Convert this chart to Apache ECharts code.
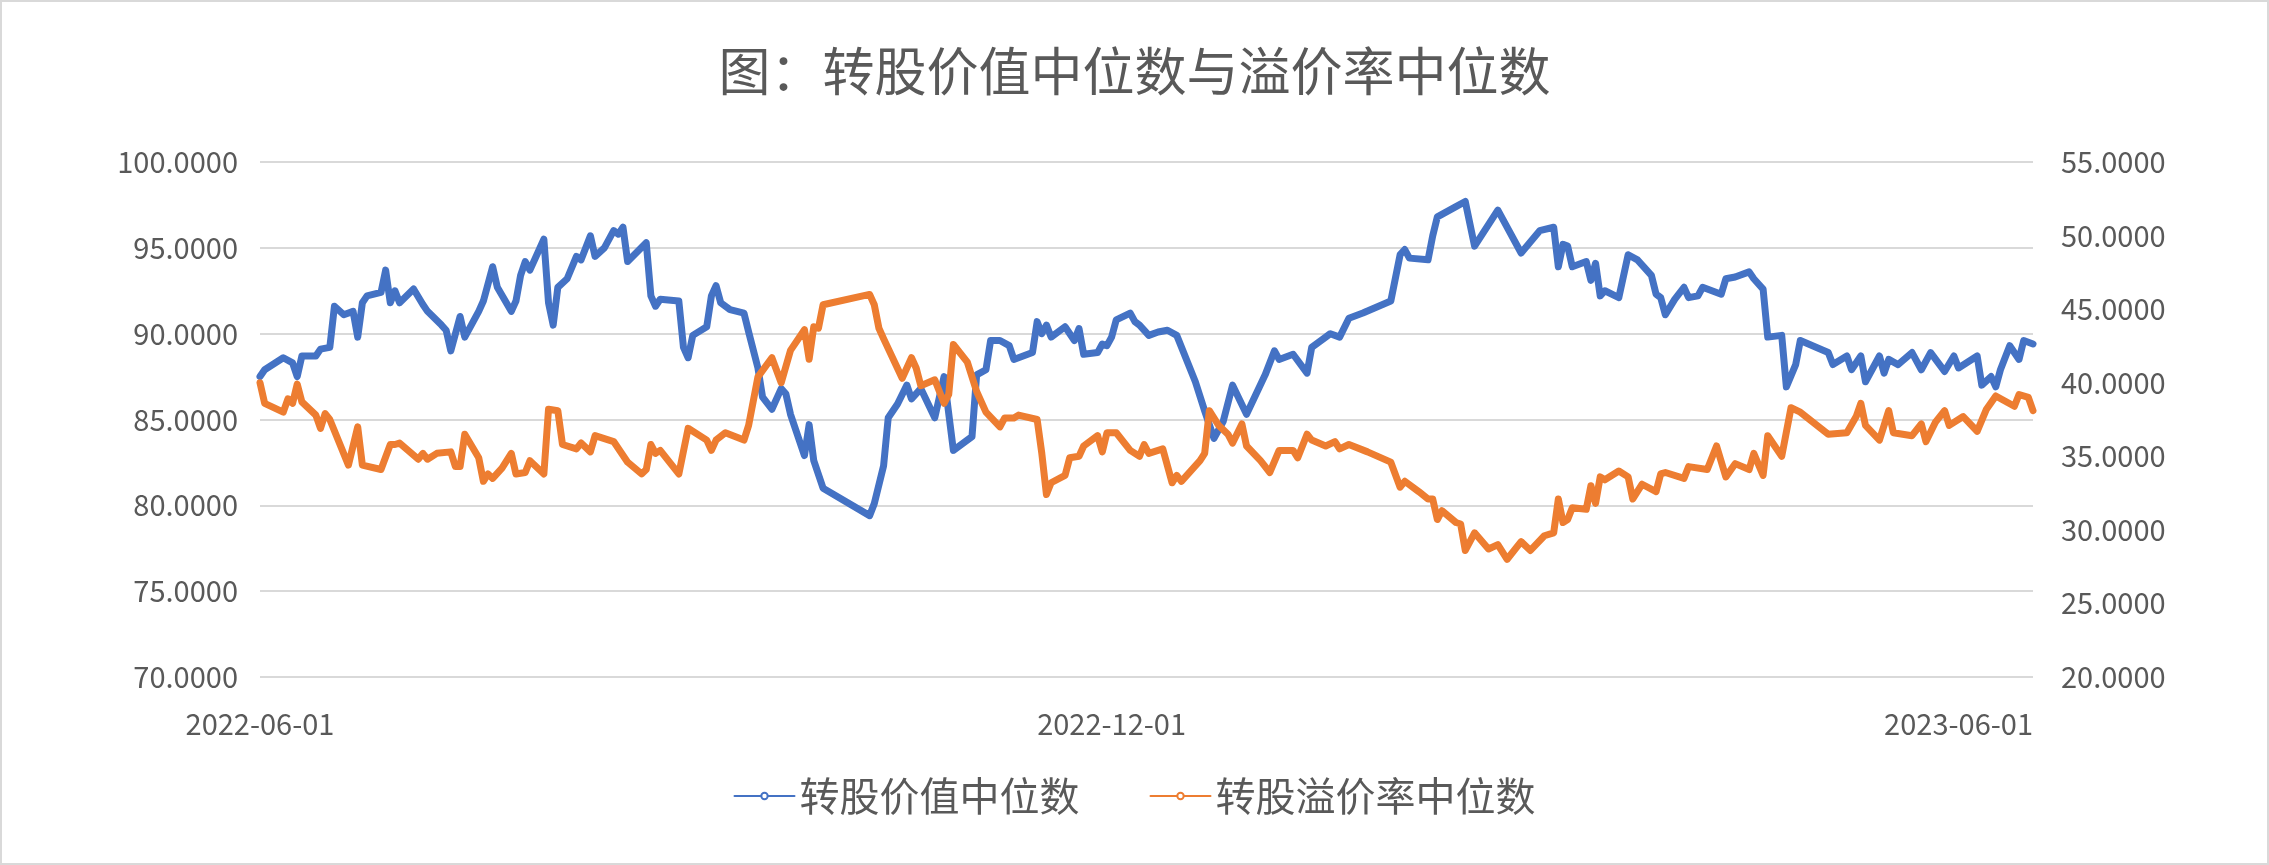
<!DOCTYPE html>
<html>
<head>
<meta charset="utf-8">
<script src="https://cdn.jsdelivr.net/npm/echarts@6/dist/echarts.min.js"></script>
<style>
  html, body { margin: 0; padding: 0; background: #fff; }
  #chart { width: 2265px; height: 861px; border: 2px solid #d9d9d9; }
</style>
</head>
<body>
<div id="chart"></div>
<script>
// 转股价值中位数
var valueDates = ['2022-06-01','2022-06-02','2022-06-06','2022-06-08','2022-06-09','2022-06-10','2022-06-13','2022-06-14','2022-06-16','2022-06-17','2022-06-19','2022-06-21','2022-06-22','2022-06-23','2022-06-24','2022-06-27','2022-06-28','2022-06-29','2022-06-30','2022-07-01','2022-07-04','2022-07-06','2022-07-07','2022-07-10','2022-07-11','2022-07-12','2022-07-14','2022-07-15','2022-07-18','2022-07-19','2022-07-21','2022-07-22','2022-07-25','2022-07-26','2022-07-27','2022-07-28','2022-07-29','2022-08-01','2022-08-02','2022-08-03','2022-08-04','2022-08-06','2022-08-08','2022-08-09','2022-08-11','2022-08-12','2022-08-14','2022-08-16','2022-08-17','2022-08-18','2022-08-19','2022-08-23','2022-08-24','2022-08-25','2022-08-26','2022-08-30','2022-08-31','2022-09-01','2022-09-02','2022-09-05','2022-09-06','2022-09-07','2022-09-08','2022-09-10','2022-09-13','2022-09-14','2022-09-16','2022-09-17','2022-09-19','2022-09-21','2022-09-22','2022-09-23','2022-09-26','2022-09-27','2022-09-28','2022-09-30','2022-10-10','2022-10-11','2022-10-13','2022-10-14','2022-10-16','2022-10-18','2022-10-19','2022-10-21','2022-10-24','2022-10-26','2022-10-28','2022-11-01','2022-11-02','2022-11-04','2022-11-05','2022-11-07','2022-11-09','2022-11-10','2022-11-14','2022-11-15','2022-11-16','2022-11-17','2022-11-18','2022-11-21','2022-11-23','2022-11-24','2022-11-25','2022-11-28','2022-11-29','2022-11-30','2022-12-01','2022-12-02','2022-12-05','2022-12-06','2022-12-07','2022-12-09','2022-12-11','2022-12-13','2022-12-15','2022-12-19','2022-12-21','2022-12-23','2022-12-25','2022-12-27','2022-12-30','2023-01-03','2023-01-05','2023-01-06','2023-01-09','2023-01-12','2023-01-13','2023-01-16','2023-01-17','2023-01-19','2023-01-21','2023-01-24','2023-01-30','2023-02-01','2023-02-02','2023-02-03','2023-02-07','2023-02-08','2023-02-09','2023-02-13','2023-02-15','2023-02-17','2023-02-22','2023-02-27','2023-03-03','2023-03-06','2023-03-07','2023-03-08','2023-03-09','2023-03-10','2023-03-13','2023-03-14','2023-03-15','2023-03-16','2023-03-17','2023-03-20','2023-03-22','2023-03-24','2023-03-27','2023-03-28','2023-03-29','2023-03-30','2023-04-01','2023-04-03','2023-04-04','2023-04-06','2023-04-07','2023-04-11','2023-04-12','2023-04-14','2023-04-17','2023-04-18','2023-04-20','2023-04-21','2023-04-24','2023-04-25','2023-04-27','2023-04-28','2023-05-04','2023-05-05','2023-05-08','2023-05-09','2023-05-11','2023-05-12','2023-05-15','2023-05-16','2023-05-17','2023-05-19','2023-05-22','2023-05-24','2023-05-26','2023-05-29','2023-05-31','2023-06-01','2023-06-05','2023-06-06','2023-06-08','2023-06-09','2023-06-10','2023-06-12','2023-06-14','2023-06-15','2023-06-17'];
var valueData = [87.5,87.9,88.6,88.3,87.5,88.7,88.7,89.1,89.2,91.6,91.1,91.3,89.8,91.8,92.2,92.4,93.7,91.8,92.5,91.8,92.6,91.7,91.3,90.5,90.2,89.0,91.0,89.8,91.3,91.9,93.9,92.7,91.3,91.9,93.4,94.2,93.7,95.5,91.8,90.5,92.7,93.2,94.5,94.3,95.7,94.5,95.0,96.0,95.8,96.2,94.2,95.3,92.2,91.6,92.0,91.9,89.2,88.6,89.9,90.4,92.2,92.8,91.8,91.4,91.2,90.1,88.0,86.3,85.6,86.8,86.5,85.3,82.9,84.7,82.6,81.0,79.4,80.1,82.3,85.1,85.9,87.0,86.2,86.8,85.1,87.5,83.2,84.0,87.6,87.9,89.6,89.6,89.3,88.5,88.9,90.7,90.0,90.5,89.8,90.4,89.6,90.3,88.8,88.9,89.4,89.3,89.8,90.8,91.2,90.7,90.5,89.9,90.1,90.2,89.9,87.2,85.5,83.9,84.9,87.0,85.3,87.6,89.0,88.5,88.8,87.7,89.2,89.8,90.0,89.8,90.9,91.2,91.9,94.6,94.9,94.4,94.3,95.7,96.8,97.4,97.7,95.1,97.2,94.7,96.0,96.2,93.9,95.2,95.1,93.9,94.2,93.1,94.1,92.2,92.5,92.1,94.6,94.3,93.4,92.3,92.1,91.1,92.0,92.7,92.1,92.2,92.7,92.3,93.2,93.3,93.6,93.2,92.6,89.8,89.9,86.9,88.2,89.6,88.9,88.2,88.7,87.9,88.7,87.2,88.7,87.7,88.5,88.2,88.9,87.9,88.9,87.8,88.7,88.0,88.7,87.0,87.5,86.9,87.9,89.3,88.5,89.6,89.4];

// 转股溢价率中位数
var premiumDates = ['2022-06-01','2022-06-02','2022-06-06','2022-06-07','2022-06-08','2022-06-09','2022-06-10','2022-06-13','2022-06-14','2022-06-15','2022-06-16','2022-06-20','2022-06-22','2022-06-23','2022-06-27','2022-06-29','2022-06-30','2022-07-01','2022-07-05','2022-07-06','2022-07-07','2022-07-09','2022-07-12','2022-07-13','2022-07-14','2022-07-15','2022-07-18','2022-07-19','2022-07-20','2022-07-21','2022-07-23','2022-07-25','2022-07-26','2022-07-28','2022-07-29','2022-08-01','2022-08-02','2022-08-04','2022-08-05','2022-08-08','2022-08-09','2022-08-11','2022-08-12','2022-08-16','2022-08-19','2022-08-22','2022-08-23','2022-08-24','2022-08-25','2022-08-26','2022-08-30','2022-09-01','2022-09-05','2022-09-06','2022-09-07','2022-09-09','2022-09-13','2022-09-14','2022-09-16','2022-09-19','2022-09-21','2022-09-23','2022-09-26','2022-09-27','2022-09-28','2022-09-29','2022-09-30','2022-10-10','2022-10-11','2022-10-12','2022-10-13','2022-10-17','2022-10-19','2022-10-20','2022-10-21','2022-10-24','2022-10-26','2022-10-27','2022-10-28','2022-10-31','2022-11-02','2022-11-04','2022-11-07','2022-11-08','2022-11-10','2022-11-11','2022-11-15','2022-11-16','2022-11-17','2022-11-18','2022-11-21','2022-11-22','2022-11-24','2022-11-25','2022-11-28','2022-11-29','2022-11-30','2022-12-02','2022-12-05','2022-12-07','2022-12-08','2022-12-09','2022-12-12','2022-12-14','2022-12-15','2022-12-16','2022-12-20','2022-12-21','2022-12-22','2022-12-24','2022-12-26','2022-12-27','2022-12-29','2022-12-30','2023-01-02','2023-01-04','2023-01-06','2023-01-09','2023-01-10','2023-01-12','2023-01-13','2023-01-16','2023-01-18','2023-01-19','2023-01-21','2023-01-25','2023-01-30','2023-02-01','2023-02-02','2023-02-05','2023-02-07','2023-02-08','2023-02-09','2023-02-10','2023-02-13','2023-02-14','2023-02-15','2023-02-17','2023-02-20','2023-02-22','2023-02-24','2023-02-27','2023-03-01','2023-03-04','2023-03-06','2023-03-07','2023-03-08','2023-03-09','2023-03-10','2023-03-13','2023-03-14','2023-03-15','2023-03-16','2023-03-17','2023-03-20','2023-03-22','2023-03-23','2023-03-25','2023-03-28','2023-03-29','2023-03-30','2023-04-03','2023-04-04','2023-04-08','2023-04-10','2023-04-12','2023-04-14','2023-04-17','2023-04-18','2023-04-20','2023-04-21','2023-04-24','2023-04-26','2023-04-28','2023-05-04','2023-05-08','2023-05-10','2023-05-11','2023-05-12','2023-05-15','2023-05-17','2023-05-18','2023-05-22','2023-05-24','2023-05-25','2023-05-27','2023-05-29','2023-05-30','2023-06-02','2023-06-05','2023-06-07','2023-06-09','2023-06-13','2023-06-14','2023-06-16','2023-06-17'];
var premiumData = [40.0,38.6,38.0,38.9,38.6,39.9,38.7,37.8,36.9,37.9,37.5,34.4,37.0,34.4,34.1,35.8,35.8,35.9,34.8,35.2,34.8,35.2,35.3,34.3,34.3,36.5,34.9,33.3,33.8,33.5,34.2,35.2,33.8,33.9,34.7,33.8,38.2,38.1,35.8,35.5,35.9,35.3,36.4,36.0,34.6,33.8,34.1,35.8,35.2,35.4,33.8,36.9,36.1,35.4,36.1,36.6,36.1,37.1,40.4,41.7,40.0,42.2,43.6,41.6,43.8,43.7,45.3,46.0,45.3,43.7,43.0,40.3,41.7,41.0,39.8,40.2,38.6,39.2,42.6,41.4,39.4,38.0,37.0,37.6,37.6,37.8,37.5,35.2,32.4,33.2,33.7,34.9,35.0,35.7,36.4,35.3,36.6,36.6,35.4,35.0,35.8,35.2,35.5,33.2,33.7,33.3,34.7,35.2,38.1,37.1,36.5,35.9,37.2,35.7,34.7,33.9,35.4,35.4,34.9,36.5,36.1,35.7,36.0,35.5,35.8,35.3,34.6,32.9,33.3,32.6,32.1,32.1,30.7,31.3,30.5,30.4,28.6,29.8,28.7,29.0,28.0,29.2,28.6,29.6,29.8,32.1,30.5,30.7,31.5,31.4,33.0,31.8,33.6,33.4,34.0,33.6,32.1,33.1,32.6,33.8,33.9,33.5,34.3,34.1,35.7,33.6,34.5,34.1,35.2,33.7,36.4,35.0,38.3,38.0,36.5,36.6,37.7,38.6,37.1,36.1,38.1,36.6,36.4,37.2,36.0,37.3,38.1,37.1,37.7,36.7,38.2,39.1,38.4,39.2,39.0,38.1];

var xLabelDates = ['2022-06-01', '2022-12-01', '2023-06-01'];

function toTime(s) {
    var p = s.split('-');
    return new Date(+p[0], +p[1] - 1, +p[2]).getTime();
}
function pairs(dates, vals) {
    var out = [];
    for (var i = 0; i < dates.length; i++) {
        out.push([toTime(dates[i]), vals[i]]);
    }
    return out;
}

var font = 'Noto Sans CJK SC';
var grey = '#595959';

var chart = echarts.init(document.getElementById('chart'));
var option = {
    backgroundColor: '#fff',
    animation: false,
    title: {
        text: '图：转股价值中位数与溢价率中位数',
        left: 'center',
        top: 38,
        textStyle: { fontFamily: font, fontSize: 52, fontWeight: 'normal', color: grey }
    },
    legend: {
        bottom: 42,
        itemWidth: 60,
        itemHeight: 8,
        itemGap: 70,
        textStyle: { fontFamily: font, fontSize: 40, color: grey },
        data: ['转股价值中位数', '转股溢价率中位数']
    },
    grid: { left: 258, right: 234, top: 160, bottom: 186 },
    xAxis: {
        type: 'time',
        min: toTime('2022-06-01'),
        max: toTime('2023-06-17'),
        axisLine: { show: false },
        axisTick: { show: false },
        splitLine: { show: false },
        axisLabel: {
            customValues: xLabelDates.map(toTime),
            formatter: '{yyyy}-{MM}-{dd}',
            fontFamily: font, fontSize: 29, color: grey, margin: 32,
            showMinLabel: true, showMaxLabel: true
        }
    },
    yAxis: [
        {
            type: 'value', min: 70, max: 100, interval: 5,
            axisLabel: {
                formatter: function (v) { return v.toFixed(4); },
                fontFamily: font, fontSize: 29, color: grey, margin: 22
            },
            splitLine: { lineStyle: { color: '#d9d9d9', width: 2 } }
        },
        {
            type: 'value', min: 20, max: 55, interval: 5,
            axisLabel: {
                formatter: function (v) { return v.toFixed(4); },
                fontFamily: font, fontSize: 29, color: grey, margin: 28
            },
            splitLine: { show: false }
        }
    ],
    series: [
        {
            name: '转股价值中位数',
            type: 'line',
            yAxisIndex: 0,
            showSymbol: false,
            data: pairs(valueDates, valueData),
            itemStyle: { color: '#4472C4' },
            lineStyle: { color: '#4472C4', width: 7, cap: 'round', join: 'round' }
        },
        {
            name: '转股溢价率中位数',
            type: 'line',
            yAxisIndex: 1,
            showSymbol: false,
            data: pairs(premiumDates, premiumData),
            itemStyle: { color: '#ED7D31' },
            lineStyle: { color: '#ED7D31', width: 7, cap: 'round', join: 'round' }
        }
    ]
};
chart.setOption(option);
</script>
</body>
</html>
